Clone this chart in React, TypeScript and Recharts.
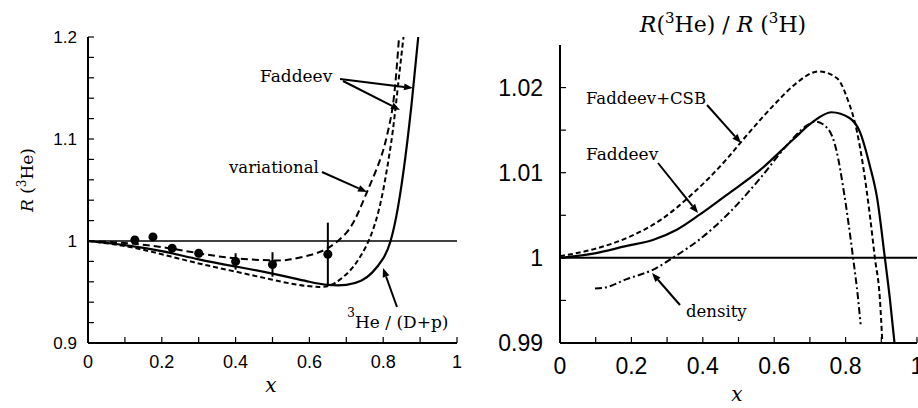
import { ComposedChart, Line, Scatter, ErrorBar, XAxis, YAxis, ReferenceLine } from "recharts";

// left panel: R(3He)
const leftXTicks = [0, 0.1, 0.2, 0.3, 0.4, 0.5, 0.6, 0.7, 0.8, 0.9, 1];
const leftXMajor = [0, 0.2, 0.4, 0.6, 0.8, 1];
const leftXLabels = ["0", "0.2", "0.4", "0.6", "0.8", "1"];
const leftYTicks = [0.9, 0.92, 0.94, 0.96, 0.98, 1, 1.02, 1.04, 1.06, 1.08, 1.1, 1.12, 1.14, 1.16, 1.18, 1.2];
const leftYMajor = [0.9, 1, 1.1, 1.2];
const leftYLabels = ["0.9", "1", "1.1", "1.2"];

const variational = [
  { x: 0, y: 1.0 }, { x: 0.1, y: 0.998 }, { x: 0.2, y: 0.994 }, { x: 0.3, y: 0.988 },
  { x: 0.4, y: 0.983 }, { x: 0.5, y: 0.981 }, { x: 0.55, y: 0.982 }, { x: 0.6, y: 0.986 },
  { x: 0.65, y: 0.993 }, { x: 0.7, y: 1.008 }, { x: 0.73, y: 1.026 },
  { x: 0.756, y: 1.048 }, { x: 0.79, y: 1.078 }, { x: 0.81, y: 1.103 }, { x: 0.825, y: 1.13 },
  { x: 0.835, y: 1.163 }, { x: 0.843, y: 1.2 },
];
const faddeevDashed = [
  { x: 0, y: 1.0 }, { x: 0.1, y: 0.995 }, { x: 0.2, y: 0.987 }, { x: 0.3, y: 0.978 },
  { x: 0.4, y: 0.97 }, { x: 0.5, y: 0.962 }, { x: 0.57, y: 0.957 }, { x: 0.63, y: 0.955 },
  { x: 0.67, y: 0.959 }, { x: 0.71, y: 0.971 }, { x: 0.74, y: 0.986 }, { x: 0.765, y: 1.004 },
  { x: 0.79, y: 1.033 }, { x: 0.81, y: 1.07 }, { x: 0.826, y: 1.108 }, { x: 0.84, y: 1.152 },
  { x: 0.855, y: 1.2 },
];
const faddeevSolid = [
  { x: 0, y: 1.0 }, { x: 0.1, y: 0.996 }, { x: 0.2, y: 0.99 }, { x: 0.3, y: 0.982 },
  { x: 0.4, y: 0.975 }, { x: 0.5, y: 0.968 }, { x: 0.6, y: 0.96 }, { x: 0.65, y: 0.957 },
  { x: 0.7, y: 0.957 }, { x: 0.74, y: 0.961 }, { x: 0.77, y: 0.969 }, { x: 0.8, y: 0.983 },
  { x: 0.82, y: 1.0 }, { x: 0.84, y: 1.033 }, { x: 0.86, y: 1.082 }, { x: 0.878, y: 1.138 },
  { x: 0.895, y: 1.2 },
];
const measured = [
  { x: 0.127, y: 1.001, err: 0.002 }, { x: 0.176, y: 1.004, err: 0.002 },
  { x: 0.228, y: 0.993, err: 0.002 }, { x: 0.3, y: 0.988, err: 0.004 },
  { x: 0.4, y: 0.98, err: 0.008 }, { x: 0.5, y: 0.977, err: 0.012 },
  { x: 0.65, y: 0.987, err: 0.031 },
];

// right panel: R(3He)/R(3H)
const rightXTicks = [0, 0.1, 0.2, 0.3, 0.4, 0.5, 0.6, 0.7, 0.8, 0.9, 1];
const rightXMajor = [0, 0.2, 0.4, 0.6, 0.8, 1];
const rightXLabels = ["0", "0.2", "0.4", "0.6", "0.8", "1"];
const rightYTicks = [0.99, 0.995, 1, 1.005, 1.01, 1.015, 1.02];
const rightYMajor = [0.99, 1, 1.01, 1.02];
const rightYLabels = ["0.99", "1", "1.01", "1.02"];

const faddeevCsb = [
  { x: 0, y: 1.0002 }, { x: 0.093, y: 1.001 }, { x: 0.196, y: 1.0025 }, { x: 0.28, y: 1.0044 },
  { x: 0.373, y: 1.0076 }, { x: 0.467, y: 1.0116 }, { x: 0.513, y: 1.0139 }, { x: 0.607, y: 1.0183 },
  { x: 0.653, y: 1.0202 }, { x: 0.725, y: 1.0219 }, { x: 0.776, y: 1.0211 }, { x: 0.804, y: 1.0188 },
  { x: 0.832, y: 1.0148 }, { x: 0.849, y: 1.0108 }, { x: 0.868, y: 1.005 }, { x: 0.882, y: 1.0 },
  { x: 0.896, y: 0.9952 }, { x: 0.903, y: 0.99 },
];
const faddeevRatio = [
  { x: 0, y: 1.0 }, { x: 0.093, y: 1.0005 }, { x: 0.187, y: 1.0014 }, { x: 0.26, y: 1.0021 },
  { x: 0.327, y: 1.0033 }, { x: 0.392, y: 1.0051 }, { x: 0.467, y: 1.0074 }, { x: 0.56, y: 1.0103 },
  { x: 0.653, y: 1.0139 }, { x: 0.709, y: 1.016 }, { x: 0.76, y: 1.0171 }, { x: 0.812, y: 1.0164 },
  { x: 0.84, y: 1.0148 }, { x: 0.868, y: 1.0108 }, { x: 0.888, y: 1.0071 }, { x: 0.91, y: 1.0 },
  { x: 0.924, y: 0.9952 }, { x: 0.937, y: 0.99 },
];
const density = [
  { x: 0.098, y: 0.9964 }, { x: 0.125, y: 0.9965 }, { x: 0.187, y: 0.9975 }, { x: 0.26, y: 0.9986 },
  { x: 0.327, y: 1.0003 }, { x: 0.392, y: 1.0022 }, { x: 0.467, y: 1.005 }, { x: 0.56, y: 1.0093 },
  { x: 0.635, y: 1.0132 }, { x: 0.69, y: 1.0155 }, { x: 0.715, y: 1.016 }, { x: 0.75, y: 1.0152 },
  { x: 0.775, y: 1.0125 }, { x: 0.795, y: 1.0078 }, { x: 0.821, y: 1.0 }, { x: 0.835, y: 0.9952 },
  { x: 0.842, y: 0.9922 },
];

const SANS = "Liberation Sans";
const SERIF = "DejaVu Serif";

const fmt = (major: number[], labels: string[]) => (v: number) => {
  const i = major.findIndex((m) => Math.abs(m - v) < 1e-9);
  return i >= 0 ? labels[i] : "";
};

const axisLine = { stroke: "#000", strokeWidth: 2 };
const tickLine = { stroke: "#000", strokeWidth: 1.2 };

function Arrow({ x1, y1, x2, y2 }: { x1: number; y1: number; x2: number; y2: number }) {
  const a = Math.atan2(y2 - y1, x2 - x1);
  const L = 9;
  const W = 3.5;
  const bx = x2 - L * Math.cos(a);
  const by = y2 - L * Math.sin(a);
  const p1 = `${bx + W * Math.sin(a)},${by - W * Math.cos(a)}`;
  const p2 = `${bx - W * Math.sin(a)},${by + W * Math.cos(a)}`;
  return (
    <g>
      <line x1={x1} y1={y1} x2={bx} y2={by} stroke="#000" strokeWidth={2} />
      <polygon points={`${x2},${y2} ${p1} ${p2}`} fill="#000" />
    </g>
  );
}

function T(props: any) {
  const { children, ...rest } = props;
  return (
    <text fontFamily={SERIF} fill="#000" {...rest}>
      {children}
    </text>
  );
}

function LeftPanel() {
  return (
    <ComposedChart width={470} height={408} margin={{ top: 37, right: 13, bottom: 35, left: 28 }}>
      <XAxis xAxisId="b" dataKey="x" type="number" domain={[0, 1]} ticks={leftXTicks}
        tickFormatter={fmt(leftXMajor, leftXLabels)} tickSize={-6} tickMargin={18} height={30}
        axisLine={axisLine} tickLine={tickLine} interval={0} allowDataOverflow
        tick={{ fill: "#000", fontSize: 18, fontFamily: SANS }} />
      <XAxis xAxisId="t" orientation="top" type="number" domain={[0, 1]} ticks={leftXTicks}
        tick={false} tickSize={-6} height={0} axisLine={axisLine} tickLine={tickLine} interval={0} />
      <YAxis yAxisId="l" dataKey="y" type="number" domain={[0.9, 1.2]} ticks={leftYTicks}
        tickFormatter={fmt(leftYMajor, leftYLabels)} tickSize={-6} tickMargin={17} width={60}
        axisLine={axisLine} tickLine={tickLine} interval={0} allowDataOverflow
        tick={{ fill: "#000", fontSize: 17, fontFamily: SANS }} />
      <YAxis yAxisId="r" orientation="right" type="number" domain={[0.9, 1.2]} ticks={leftYTicks}
        tick={false} tickSize={-6} width={0} axisLine={axisLine} tickLine={tickLine} interval={0} />
      <ReferenceLine xAxisId="b" yAxisId="l" y={1} stroke="#000" strokeWidth={1.5} />
      <Line xAxisId="b" yAxisId="l" data={variational} dataKey="y" type="natural" stroke="#000"
        strokeWidth={2} strokeDasharray="7 4" dot={false} isAnimationActive={false} />
      <Line xAxisId="b" yAxisId="l" data={faddeevDashed} dataKey="y" type="natural" stroke="#000"
        strokeWidth={2} strokeDasharray="5 3" dot={false} isAnimationActive={false} />
      <Line xAxisId="b" yAxisId="l" data={faddeevSolid} dataKey="y" type="natural" stroke="#000"
        strokeWidth={2.2} dot={false} isAnimationActive={false} />
      <Scatter xAxisId="b" yAxisId="l" data={measured} dataKey="y" fill="#000" isAnimationActive={false}>
        <ErrorBar dataKey="err" direction="y" width={0} stroke="#000" strokeWidth={2} isAnimationActive={false} />
      </Scatter>
    </ComposedChart>
  );
}

function RightPanel() {
  return (
    <ComposedChart width={458} height={408} margin={{ top: 45, right: 1, bottom: 35, left: 40 }}>
      <XAxis xAxisId="b" dataKey="x" type="number" domain={[0, 1]} ticks={rightXTicks}
        tickFormatter={fmt(rightXMajor, rightXLabels)} tickSize={-6} tickMargin={21} height={30}
        axisLine={axisLine} tickLine={tickLine} interval={0} allowDataOverflow
        tick={{ fill: "#000", fontSize: 23, fontFamily: SANS }} />
      <XAxis xAxisId="t" orientation="top" type="number" domain={[0, 1]} ticks={rightXTicks}
        tick={false} tickSize={-6} height={0} axisLine={axisLine} tickLine={tickLine} interval={0} />
      <YAxis yAxisId="l" dataKey="y" type="number" domain={[0.99, 1.025]} ticks={rightYTicks}
        tickFormatter={fmt(rightYMajor, rightYLabels)} tickSize={-6} tickMargin={23} width={60}
        axisLine={axisLine} tickLine={tickLine} interval={0} allowDataOverflow
        tick={{ fill: "#000", fontSize: 23, fontFamily: SANS }} />
      <YAxis yAxisId="r" orientation="right" type="number" domain={[0.99, 1.025]} ticks={rightYTicks}
        tick={false} tickSize={-6} width={0} axisLine={axisLine} tickLine={tickLine} interval={0} />
      <ReferenceLine xAxisId="b" yAxisId="l" y={1} stroke="#000" strokeWidth={2} />
      <Line xAxisId="b" yAxisId="l" data={faddeevCsb} dataKey="y" type="monotone" stroke="#000"
        strokeWidth={2} strokeDasharray="5 3" dot={false} isAnimationActive={false} />
      <Line xAxisId="b" yAxisId="l" data={faddeevRatio} dataKey="y" type="monotone" stroke="#000"
        strokeWidth={2.2} dot={false} isAnimationActive={false} />
      <Line xAxisId="b" yAxisId="l" data={density} dataKey="y" type="monotone" stroke="#000"
        strokeWidth={2} strokeDasharray="7 3 2 3" dot={false} isAnimationActive={false} />
    </ComposedChart>
  );
}

export default function App() {
  return (
    <div style={{ position: "absolute", left: 0, top: 0, width: 918, height: 408, background: "#fff", overflow: "hidden" }}>
      <div style={{ position: "absolute", left: 0, top: 0 }}>
        <LeftPanel />
      </div>
      <div style={{ position: "absolute", left: 460, top: 0 }}>
        <RightPanel />
      </div>
      <svg width={918} height={408} style={{ position: "absolute", left: 0, top: 0, pointerEvents: "none" }}>
        {/* left panel labels */}
        <T x={260} y={82} fontSize={17}>Faddeev</T>
        <T x={229} y={173} fontSize={16.5}>variational</T>
        <T x={347} y={317} fontSize={12.5}>3</T>
        <T x={355} y={328} fontSize={17}>He / (D+p)</T>
        <T x={271} y={392} fontSize={20} fontStyle="italic" textAnchor="middle">x</T>
        <T transform="translate(33,180) rotate(-90)" fontSize={17} textAnchor="middle">
          <tspan fontStyle="italic">R</tspan>
          <tspan> (</tspan>
          <tspan fontSize={12} dy={-7}>3</tspan>
          <tspan dy={7}>He)</tspan>
        </T>
        {/* right panel labels */}
        <T x={723} y={32} fontSize={22} textAnchor="middle">
          <tspan fontStyle="italic">R</tspan>
          <tspan>(</tspan>
          <tspan fontSize={15} dy={-9}>3</tspan>
          <tspan dy={9}>He) / </tspan>
          <tspan fontStyle="italic">R</tspan>
          <tspan> (</tspan>
          <tspan fontSize={15} dy={-9}>3</tspan>
          <tspan dy={9}>H)</tspan>
        </T>
        <T x={586} y={104} fontSize={16.5}>Faddeev+CSB</T>
        <T x={586} y={160} fontSize={17}>Faddeev</T>
        <T x={686} y={317} fontSize={16.5}>density</T>
        <T x={737} y={401} fontSize={20} fontStyle="italic" textAnchor="middle">x</T>
        <Arrow x1={340} y1={79} x2={413} y2={88} />
        <Arrow x1={343} y1={81} x2={400} y2={110} />
        <Arrow x1={322} y1={172} x2={367} y2={192} />
        <Arrow x1={397} y1={307} x2={383} y2={268} />
        <Arrow x1={707} y1={105} x2={741} y2={143} />
        <Arrow x1={658} y1={163} x2={698} y2={213} />
        <Arrow x1={680} y1={305} x2={652} y2={273} />
      </svg>
    </div>
  );
}
